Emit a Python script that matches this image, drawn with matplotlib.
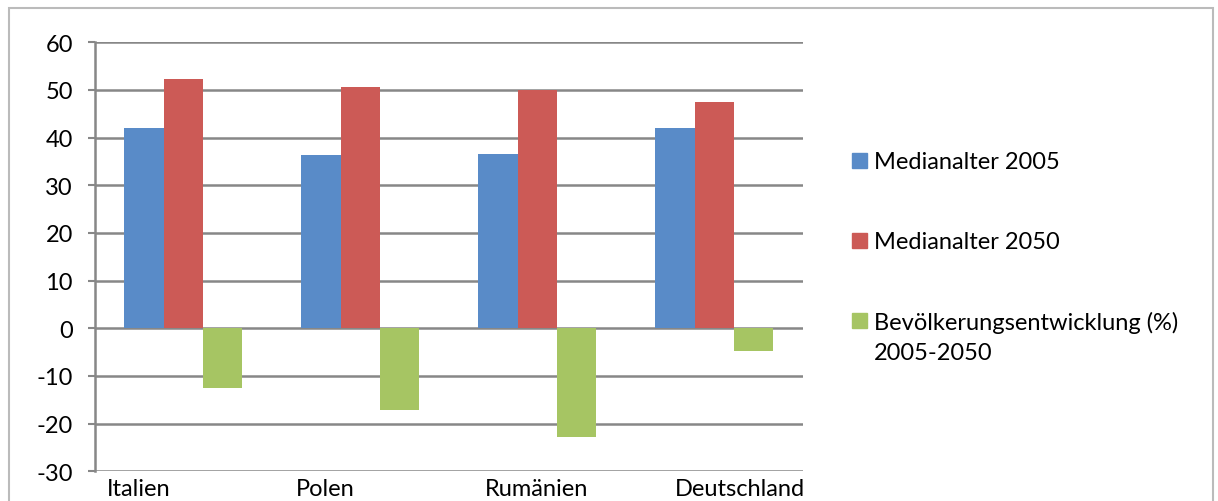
import matplotlib.pyplot as plt
import numpy as np
from matplotlib.patches import Rectangle

plt.rcParams['font.family'] = ['Lato', 'DejaVu Sans']
plt.rcParams['axes.unicode_minus'] = False

laender = ['Italien', 'Polen', 'Rumänien', 'Deutschland']
median_2005 = [42.0, 36.4, 36.5, 42.0]
median_2050 = [52.4, 50.7, 50.0, 47.4]
bevoelkerung = [-12.5, -17.1, -22.9, -4.7]

serien = ['Medianalter 2005', 'Medianalter 2050',
          'Bevölkerungsentwicklung (%)\n2005-2050']
farben = ['#598BC8', '#CC5A56', '#A6C563']

fs = 17

fig = plt.figure(figsize=(12.18, 5.02), dpi=100)
ax = fig.add_axes([0.078, 0.0592, 0.581, 0.8545])

# outer chart frame
fig.patches.append(Rectangle((9 / 1218, -0.05), 1204 / 1218, 1 - 9 / 502 + 0.05,
                             transform=fig.transFigure, fill=False,
                             edgecolor='#BBBBBB', linewidth=1.5))

x = np.arange(len(laender))
w = 1 / 4.5
for i, werte in enumerate([median_2005, median_2050, bevoelkerung]):
    ax.bar(x + (i - 1) * w, werte, width=w, color=farben[i], zorder=3)

ax.set_xlim(-0.5, 3.5)
ax.set_ylim(-30, 60)
ax.set_yticks(range(-30, 61, 10))
ax.yaxis.grid(True, color='#878787', linewidth=1.8, zorder=0)
ax.set_axisbelow(True)
for s in ['top', 'right', 'bottom']:
    ax.spines[s].set_visible(False)
ax.spines['left'].set_color('#878787')
ax.spines['left'].set_linewidth(1.8)
ax.tick_params(axis='y', length=5, width=1.5, color='#878787',
               labelsize=fs, pad=11)
ax.set_xticks([])

# category labels below the axis
label_x = [-0.432, 0.636, 1.703, 2.777]
for lx, name in zip(label_x, laender):
    ax.text(lx, -31.5, name, ha='left', va='top', fontsize=fs)

# legend on the right
leg_y = [162, 242, 322]
for yy, name, c in zip(leg_y, serien, farben):
    fig.patches.append(Rectangle((852 / 1218, 1 - (yy + 7) / 502), 15 / 1218, 15 / 502,
                                 transform=fig.transFigure, color=c))
    fig.text(874 / 1218, 1 - (yy - 10) / 502, name, ha='left', va='top',
             fontsize=fs, linespacing=1.5)

fig.savefig('out.png', dpi=100)
